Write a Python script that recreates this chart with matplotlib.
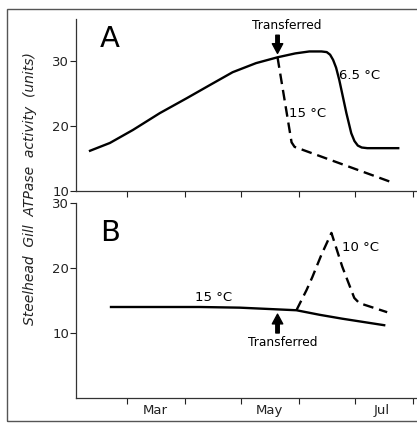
import numpy as np
import matplotlib
matplotlib.use("Agg")
import matplotlib.pyplot as plt
from matplotlib.patches import Rectangle

# x is day of year
monthTicks = [60, 91, 121, 152, 182, 213]
monthLabelPos = [75, 136, 196]
monthLabels = ["Mar", "May", "Jul"]

# Panel A: 6.5 C (solid) and transferred to 15 C (dashed)
daysA = [40.3, 50.9, 63.2, 77.6, 92.0, 104.2, 116.5, 129, 140.5, 150, 157.5, 164.0,
         166.8, 168.6, 170.2, 171.8, 173.5, 177.3, 179.9, 181.6, 183.4, 185.5, 188.5, 205]
atpA = [16.2, 17.4, 19.4, 22.0, 24.3, 26.3, 28.3, 29.7, 30.6, 31.2, 31.5, 31.5,
        31.4, 31.0, 30.2, 29.0, 27.1, 22.0, 18.9, 17.7, 17.0, 16.7, 16.6, 16.6]
daysA15 = [140.5, 148.0, 149.6, 202.9]
atpA15 = [30.6, 17.5, 16.8, 11.2]

# Panel B: 15 C (solid) and transferred to 10 C (dashed)
daysB = [51.5, 98.9, 120.2, 150.6, 163, 175.1, 197.5]
atpB = [14.0, 14.0, 13.9, 13.5, 12.8, 12.2, 11.2]
daysB10 = [150.6, 156.0, 159.1, 163.9, 169.3, 175.1, 181.5, 184.2, 199.1]
atpB10 = [13.5, 16.6, 18.6, 22.0, 25.4, 20.2, 15.4, 14.6, 13.2]

transferDay = 140.5

lw = 1.7
dash = (0, (4.5, 2.5))
fs = 9.5

fig = plt.figure(figsize=(4.17, 4.24), dpi=100)
axA = fig.add_axes([76/417, 1-191/424, 340/417, 172/424])
axB = fig.add_axes([76/417, 1-398/424, 340/417, 195/424])

fig.patches.append(Rectangle((7/417, 1-421/424), 1.2, (421-9)/424, transform=fig.transFigure,
                             fill=False, edgecolor="#555555", lw=1.0))

for ax in (axA, axB):
    ax.set_xlim(32.8, 214.5)
    for s in ("top", "right"):
        ax.spines[s].set_visible(False)
    for s in ("left", "bottom"):
        ax.spines[s].set_linewidth(0.9)
        ax.spines[s].set_color("#333333")
    ax.set_xticks(monthTicks)
    ax.set_xticklabels([])
    ax.set_xticks(monthLabelPos, minor=True)
    ax.tick_params(axis="both", which="major", direction="out", length=4, width=0.8,
                   labelsize=fs, pad=1, colors="#222222")
    ax.tick_params(axis="x", which="minor", length=0, labelsize=fs, pad=4, colors="#222222")
    ax.set_facecolor("white")

# Panel A
axA.set_ylim(10, 36.5)
axA.set_yticks([10, 20, 30])
axA.set_yticklabels(["10", "20", "30"])
axA.plot(daysA, atpA, color="black", lw=lw)
axA.plot(daysA15, atpA15, color="black", lw=lw, linestyle=dash)
axA.annotate("", xy=(transferDay, 31.2), xytext=(transferDay, 34.0),
             arrowprops=dict(arrowstyle="simple,head_length=0.7,head_width=0.75,tail_width=0.25",
                             color="black", shrinkA=0, shrinkB=0, mutation_scale=10))
axA.text(145.3, 35.5, "Transferred", fontsize=8.8, ha="center", va="center")
axA.text(173.5, 27.8, "6.5 °C", fontsize=fs, ha="left", va="center")
axA.text(146.4, 22.0, "15 °C", fontsize=fs, ha="left", va="center")
axA.text(45.6, 33.4, "A", fontsize=21, ha="left", va="center")

# Panel B
axB.set_ylim(0, 30)
axB.set_yticks([10, 20, 30])
axB.set_yticklabels(["10", "20", "30"])
axB.set_xticklabels(monthLabels, minor=True)
axB.plot(daysB, atpB, color="black", lw=lw)
axB.plot(daysB10, atpB10, color="black", lw=lw, linestyle=dash)
axB.annotate("", xy=(transferDay, 12.9), xytext=(transferDay, 10.0),
             arrowprops=dict(arrowstyle="simple,head_length=0.7,head_width=0.75,tail_width=0.25",
                             color="black", shrinkA=0, shrinkB=0, mutation_scale=10))
axB.text(143.2, 8.5, "Transferred", fontsize=8.8, ha="center", va="center")
axB.text(96.2, 15.4, "15 °C", fontsize=fs, ha="left", va="center")
axB.text(175.1, 23.1, "10 °C", fontsize=fs, ha="left", va="center")
axB.text(45.6, 25.4, "B", fontsize=21, ha="left", va="center")

fig.text(30/417, 1-189/424, "Steelhead  Gill  ATPase  activity  (units)", rotation=90,
         ha="center", va="center", fontsize=10, style="italic", color="#222222")

fig.savefig("out.png", dpi=100)
